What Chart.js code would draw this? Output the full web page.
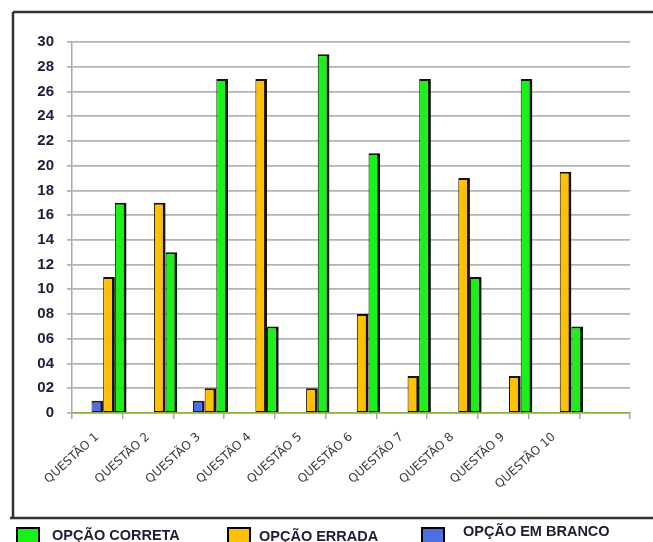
<!DOCTYPE html>
<html lang="pt-BR">
<head>
<meta charset="utf-8">
<title>Respostas por questão</title>
<script src="https://cdn.jsdelivr.net/npm/chart.js@4/dist/chart.umd.min.js"></script>
<style>
    html, body { margin: 0; padding: 0; background: #ffffff; overflow: hidden; }
    #caixa { position: relative; width: 653px; height: 542px; }
</style>
</head>
<body>
<div id="caixa"><canvas id="questoes"></canvas></div>
<script>

    /*
     * Dados: respostas por questão
     */

    // Categorias do eixo x (a última fica vazia, como no original)
    const questoes = ["QUESTÃO 1", "QUESTÃO 2", "QUESTÃO 3", "QUESTÃO 4", "QUESTÃO 5",
                      "QUESTÃO 6", "QUESTÃO 7", "QUESTÃO 8", "QUESTÃO 9", "QUESTÃO 10", ""];

    // Séries
    const opcaoCorreta = [17, 13, 27, 7, 29, 21, 27, 11, 27, 7];
    const opcaoErrada  = [11, 17, 2, 27, 2, 8, 3, 19, 3, 19.5];
    const opcaoBranco  = [1, 0, 1, 0, 0, 0, 0, 0, 0, 0];

    // Rótulos do eixo y (0, 02, 04 ... 30)
    const marcasY = [0, 2, 4, 6, 8, 10, 12, 14, 16, 18, 20, 22, 24, 26, 28, 30];

    // Cores
    const verde = "#19f219";
    const amarelo = "#ffc000";
    const azul = "#4f6ee6";

    // Bordas das barras: lado direito mais grosso imita o efeito 3D
    const bordaBarra = { left: 1, top: 2, right: 3, bottom: 1 };

    /*
     * Moldura e legenda desenhadas por fora da área do gráfico
     */
    const moldura = {
        id: "moldura",
        afterDraw(chart) {
            const ctx = chart.ctx;
            ctx.save();
            ctx.strokeStyle = "#333333";
            ctx.lineWidth = 2.5;
            ctx.beginPath();
            ctx.moveTo(13, 12);
            ctx.lineTo(660, 12);
            ctx.moveTo(13, 12);
            ctx.lineTo(13, 518);
            ctx.moveTo(10, 518);
            ctx.lineTo(660, 518);
            ctx.stroke();
            ctx.restore();
        }
    };

    const itensLegenda = ["OPÇÃO CORRETA", "OPÇÃO ERRADA", "OPÇÃO EM BRANCO"];
    const legenda = {
        id: "legenda",
        afterDraw(chart) {
            const ctx = chart.ctx;
            const caixaX = [17, 228, 422];
            const textoX = [52, 259, 463];
            const textoY = [536, 537, 532];
            ctx.save();
            ctx.font = "bold 14.5px 'Liberation Sans', Arial, sans-serif";
            ctx.textBaseline = "middle";
            itensLegenda.forEach(function (nome, i) {
                const ds = chart.data.datasets.find(d => d.label === nome);
                ctx.fillStyle = ds.backgroundColor;
                ctx.fillRect(caixaX[i], 528, 22, 15);
                ctx.strokeStyle = "#000000";
                ctx.lineWidth = 2;
                ctx.strokeRect(caixaX[i], 528, 22, 15);
                ctx.fillStyle = "#1d1d3a";
                ctx.fillText(nome, textoX[i], textoY[i]);
            });
            ctx.restore();
        }
    };

    // Dados do gráfico (duas séries vazias só deslocam as barras para a direita)
    const datosQuestoes = {
        labels: questoes,
        datasets: [
            { label: "espaco1", data: [] },
            { label: "espaco2", data: [] },
            {
                label: "OPÇÃO EM BRANCO",
                backgroundColor: azul,
                borderColor: "#1a1a40",
                borderWidth: bordaBarra,
                borderSkipped: false,
                data: opcaoBranco
            },
            {
                label: "OPÇÃO ERRADA",
                backgroundColor: amarelo,
                borderColor: "#1a1200",
                borderWidth: bordaBarra,
                borderSkipped: false,
                data: opcaoErrada
            },
            {
                label: "OPÇÃO CORRETA",
                backgroundColor: verde,
                borderColor: "#001a00",
                borderWidth: bordaBarra,
                borderSkipped: false,
                data: opcaoCorreta
            }
        ]
    };

    // Opções de representação
    const opcoes = {
        responsive: true,
        maintainAspectRatio: false,
        animation: false,
        layout: { padding: { top: 42, right: 23, bottom: 0, left: 0 } },
        datasets: {
            bar: { categoryPercentage: 1.15, barPercentage: 1.0 }
        },
        plugins: {
            legend: { display: false },
            tooltip: { enabled: false }
        },
        scales: {
            x: {
                offset: true,
                grid: {
                    offset: true,
                    drawOnChartArea: false,
                    tickLength: 6,
                    color: "#a8a8a8",
                    lineWidth: 1.5
                },
                border: { color: "#8cb040", width: 1.5 },
                ticks: {
                    minRotation: 42,
                    maxRotation: 42,
                    autoSkip: false,
                    padding: 11,
                    color: "#3a3a3a",
                    font: { family: "'DejaVu Sans', sans-serif", size: 12 }
                },
                afterFit: function (scale) { scale.height = 129; }
            },
            y: {
                min: 0,
                max: 30,
                afterBuildTicks: function (scale) {
                    scale.ticks = marcasY.map(v => ({ value: v }));
                },
                grid: {
                    color: "#b4b4b4",
                    lineWidth: 1.8,
                    tickLength: 5
                },
                border: { color: "#a8a8a8", width: 1.5 },
                ticks: {
                    padding: 13,
                    color: "#1c1c3c",
                    font: { family: "'Liberation Sans', Arial, sans-serif", size: 15, weight: "bold" },
                    callback: function (v) { return v === 0 ? "0" : String(v).padStart(2, "0"); }
                },
                afterFit: function (scale) { scale.width = 72; }
            }
        }
    };

    // Represento o gráfico
    const grafico = new Chart("questoes", {
        type: "bar",
        data: datosQuestoes,
        options: opcoes,
        plugins: [moldura, legenda]
    });
</script>
</body>
</html>
